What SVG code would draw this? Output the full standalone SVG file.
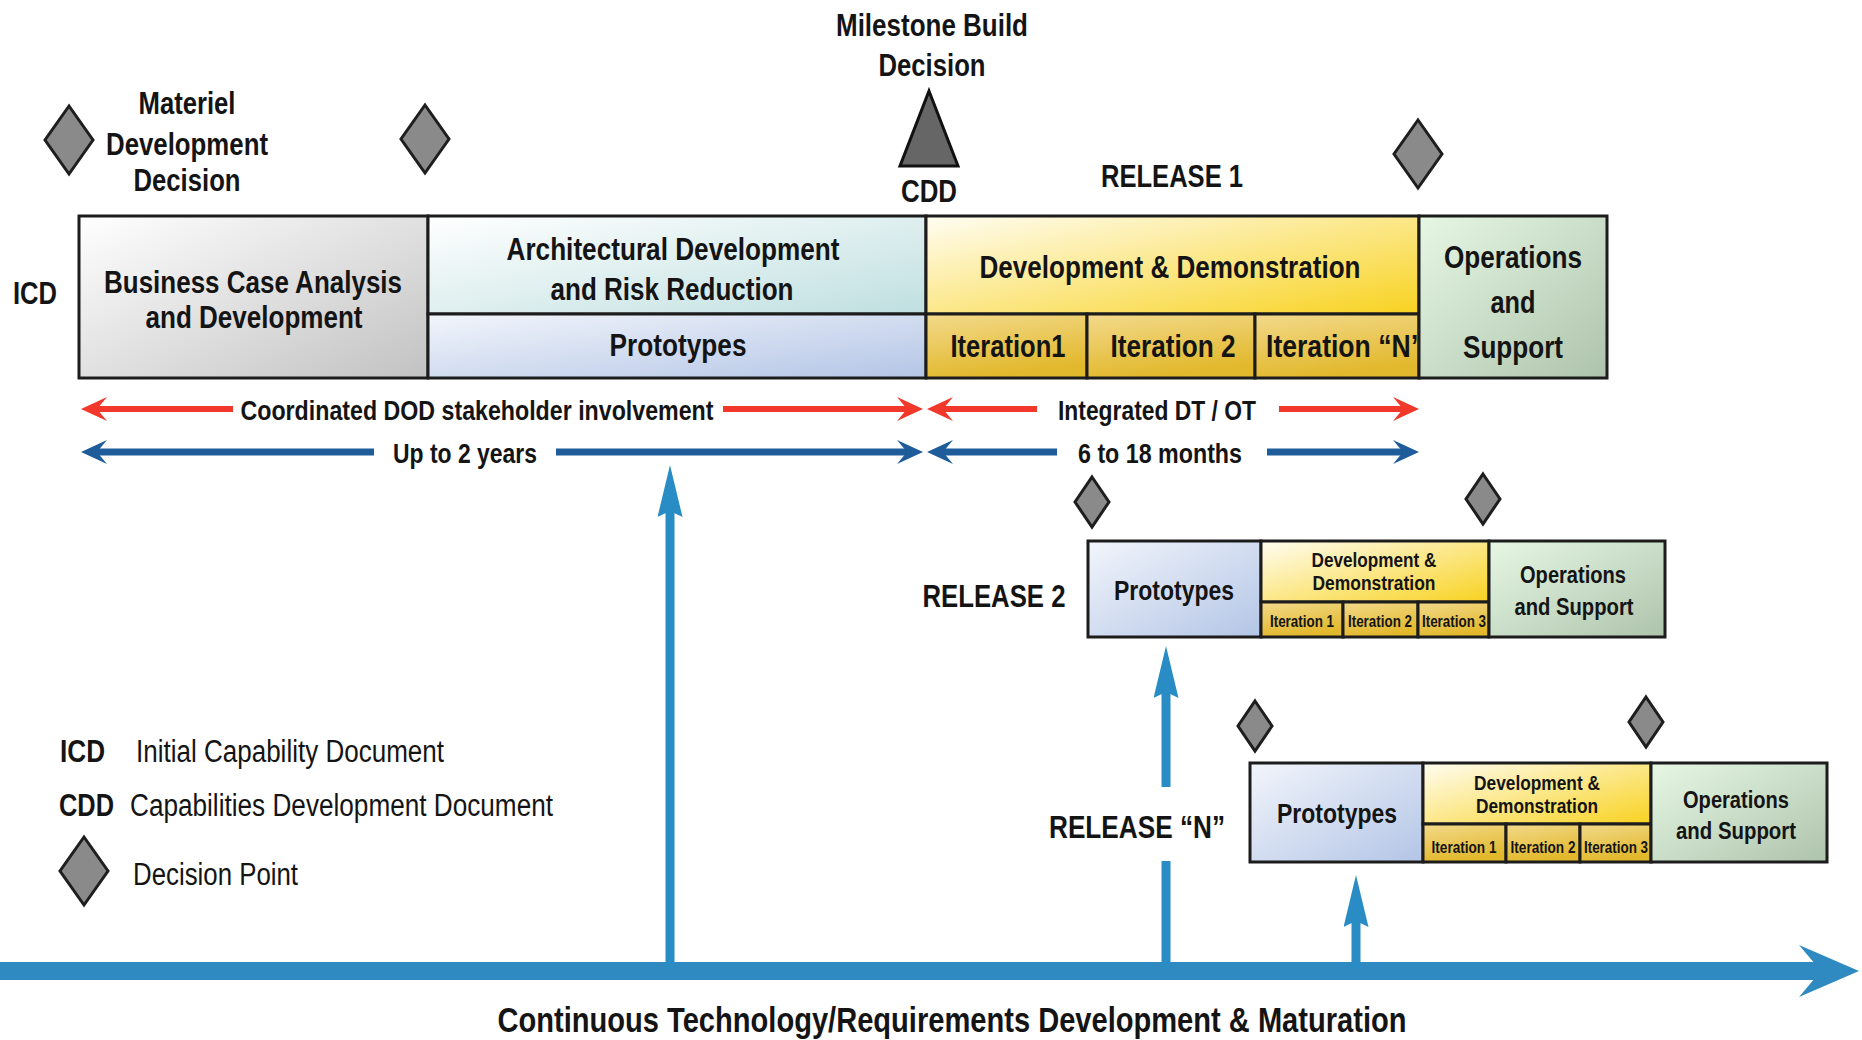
<svg xmlns="http://www.w3.org/2000/svg" width="1862" height="1040" viewBox="0 0 1862 1040">
  <defs>
    <style>
      text { font-family: 'Liberation Sans Narrow', 'Arial Narrow', 'Liberation Sans', Arial, sans-serif; font-weight: bold; fill: #141414; text-anchor: middle; }
      .reg { font-weight: normal; }
      .st { text-anchor: start; }
      .f35 { font-size: 35px; }
      .f31 { font-size: 31px; }
      .f28 { font-size: 28px; }
      .f27 { font-size: 27px; }
      .f23 { font-size: 23px; }
      .f20 { font-size: 20px; }
      .f17 { font-size: 17px; }
      .cell { stroke: #1c1c1c; stroke-width: 3; }
      .diamond { fill: #8a8a8a; stroke: #1e1e1e; stroke-width: 3; stroke-linejoin: miter; }
      .red { stroke: #f2382a; stroke-width: 6; fill: none; }
      .navy { stroke: #1f5c9a; stroke-width: 7; fill: none; }
      .sky { stroke: #2a8cc4; stroke-width: 9; fill: none; }
    </style>
    <linearGradient id="gGray" x1="0" y1="0" x2="1" y2="1">
      <stop offset="0" stop-color="#ffffff"/>
      <stop offset="1" stop-color="#c2c2c2"/>
    </linearGradient>
    <linearGradient id="gTeal" x1="0" y1="0" x2="1" y2="1">
      <stop offset="0" stop-color="#ffffff"/>
      <stop offset="1" stop-color="#bfdfe0"/>
    </linearGradient>
    <linearGradient id="gBlue" x1="0" y1="0" x2="1" y2="1">
      <stop offset="0" stop-color="#f2f5fb"/>
      <stop offset="1" stop-color="#b3c5e6"/>
    </linearGradient>
    <linearGradient id="gGold" x1="0" y1="0" x2="1" y2="1">
      <stop offset="0" stop-color="#fffdf2"/>
      <stop offset="1" stop-color="#f8d220"/>
    </linearGradient>
    <linearGradient id="gIter" x1="0" y1="0" x2="0.3" y2="1">
      <stop offset="0" stop-color="#f3da8c"/>
      <stop offset="1" stop-color="#e2b82c"/>
    </linearGradient>
    <linearGradient id="gGreen" x1="0" y1="0" x2="1" y2="1">
      <stop offset="0" stop-color="#e6f8e4"/>
      <stop offset="1" stop-color="#aec3ac"/>
    </linearGradient>
    <marker id="headRed" markerUnits="userSpaceOnUse" viewBox="0 0 26 24" markerWidth="26" markerHeight="24" refX="16" refY="12" orient="auto">
      <path d="M0,0 L26,12 L0,24 L10,12 z" fill="#f2382a"/>
    </marker>
    <marker id="headNavy" markerUnits="userSpaceOnUse" viewBox="0 0 26 24" markerWidth="26" markerHeight="24" refX="16" refY="12" orient="auto">
      <path d="M0,0 L26,12 L0,24 L10,12 z" fill="#1f5c9a"/>
    </marker>
    <marker id="headSky" markerUnits="userSpaceOnUse" viewBox="0 0 52 25" markerWidth="52" markerHeight="25" refX="22" refY="12.5" orient="auto">
      <path d="M0,0 L52,12.5 L0,25 L6,12.5 z" fill="#2a8cc4"/>
    </marker>
    <polygon id="dpBig" points="0,-34 24,0 0,34 -24,0"/>
    <polygon id="dpSmall" points="0,-25 17,0 0,25 -17,0"/>
  </defs>

  <rect width="1862" height="1040" fill="#ffffff"/>

  <!-- headings and milestone markers -->
  <g id="milestone-build">
    <text class="f31" x="932" y="36" textLength="192" lengthAdjust="spacingAndGlyphs">Milestone Build</text>
    <text class="f31" x="932" y="76" textLength="107" lengthAdjust="spacingAndGlyphs">Decision</text>
    <polygon points="929,91 958,166 900,166" fill="#666666" stroke="#111111" stroke-width="3" stroke-linejoin="miter"/>
    <text class="f31" x="929" y="202" textLength="56" lengthAdjust="spacingAndGlyphs">CDD</text>
  </g>
  <g id="materiel-decision">
    <use href="#dpBig" class="diamond" x="69" y="140"/>
    <text class="f31" x="187" y="114" textLength="97" lengthAdjust="spacingAndGlyphs">Materiel</text>
    <text class="f31" x="187" y="155" textLength="162" lengthAdjust="spacingAndGlyphs">Development</text>
    <text class="f31" x="187" y="191" textLength="107" lengthAdjust="spacingAndGlyphs">Decision</text>
  </g>
  <g id="decision-2">
    <use href="#dpBig" class="diamond" x="425" y="139"/>
  </g>
  <g id="decision-3">
    <use href="#dpBig" class="diamond" x="1418" y="154"/>
  </g>
  <text class="f31" x="1172" y="187" textLength="142" lengthAdjust="spacingAndGlyphs">RELEASE 1</text>
  <text class="f31" x="35" y="304" textLength="44" lengthAdjust="spacingAndGlyphs">ICD</text>

  <!-- release 1 -->
  <g id="release-1">
    <rect class="cell" x="79" y="216" width="349" height="162" fill="url(#gGray)"/>
    <rect class="cell" x="428" y="216" width="498" height="98" fill="url(#gTeal)"/>
    <rect class="cell" x="428" y="314" width="498" height="64" fill="url(#gBlue)"/>
    <rect class="cell" x="926" y="216" width="493" height="98" fill="url(#gGold)"/>
    <rect class="cell" x="926" y="314" width="161" height="64" fill="url(#gIter)"/>
    <rect class="cell" x="1087" y="314" width="168" height="64" fill="url(#gIter)"/>
    <rect class="cell" x="1255" y="314" width="164" height="64" fill="url(#gIter)"/>
    <text class="f31" x="253" y="293" textLength="298" lengthAdjust="spacingAndGlyphs">Business Case Analysis</text>
    <text class="f31" x="254" y="328" textLength="217" lengthAdjust="spacingAndGlyphs">and Development</text>
    <text class="f31" x="673" y="260" textLength="333" lengthAdjust="spacingAndGlyphs">Architectural Development</text>
    <text class="f31" x="672" y="300" textLength="243" lengthAdjust="spacingAndGlyphs">and Risk Reduction</text>
    <text class="f31" x="678" y="356" textLength="137" lengthAdjust="spacingAndGlyphs">Prototypes</text>
    <text class="f31" x="1170" y="278" textLength="381" lengthAdjust="spacingAndGlyphs">Development &amp; Demonstration</text>
    <text class="f31" x="1008" y="357" textLength="115" lengthAdjust="spacingAndGlyphs">Iteration1</text>
    <text class="f31" x="1173" y="357" textLength="125" lengthAdjust="spacingAndGlyphs">Iteration 2</text>
    <text class="f31 st" x="1266" y="357" textLength="158" lengthAdjust="spacingAndGlyphs">Iteration “N”</text>
    <rect class="cell" x="1419" y="216" width="188" height="162" fill="url(#gGreen)"/>
    <text class="f31" x="1513" y="268" textLength="138" lengthAdjust="spacingAndGlyphs">Operations</text>
    <text class="f31" x="1513" y="313" textLength="45" lengthAdjust="spacingAndGlyphs">and</text>
    <text class="f31" x="1513" y="358" textLength="100" lengthAdjust="spacingAndGlyphs">Support</text>
  </g>

  <!-- release 2 -->
  <g id="release-2">
    <use href="#dpSmall" class="diamond" x="1092" y="502"/>
    <use href="#dpSmall" class="diamond" x="1483" y="499"/>
    <text class="f31" x="994" y="607" textLength="143" lengthAdjust="spacingAndGlyphs">RELEASE 2</text>
    <rect class="cell" x="1088" y="541" width="173" height="96" fill="url(#gBlue)"/>
    <rect class="cell" x="1261" y="541" width="228" height="61" fill="url(#gGold)"/>
    <rect class="cell" x="1261" y="602" width="82" height="35" fill="url(#gIter)"/>
    <rect class="cell" x="1343" y="602" width="75" height="35" fill="url(#gIter)"/>
    <rect class="cell" x="1418" y="602" width="71" height="35" fill="url(#gIter)"/>
    <rect class="cell" x="1489" y="541" width="176" height="96" fill="url(#gGreen)"/>
    <text class="f27" x="1174" y="600" textLength="120" lengthAdjust="spacingAndGlyphs">Prototypes</text>
    <text class="f20" x="1374" y="567" textLength="125" lengthAdjust="spacingAndGlyphs">Development &amp;</text>
    <text class="f20" x="1374" y="590" textLength="123" lengthAdjust="spacingAndGlyphs">Demonstration</text>
    <text class="f17" transform="translate(1302,627) scale(0.79,1)">Iteration 1</text>
    <text class="f17" transform="translate(1380,627) scale(0.79,1)">Iteration 2</text>
    <text class="f17" transform="translate(1454,627) scale(0.79,1)">Iteration 3</text>
    <text class="f23" x="1573" y="583" textLength="106" lengthAdjust="spacingAndGlyphs">Operations</text>
    <text class="f23" x="1574" y="615" textLength="119" lengthAdjust="spacingAndGlyphs">and Support</text>
  </g>

  <!-- release N -->
  <g id="release-n">
    <use href="#dpSmall" class="diamond" x="1255" y="726"/>
    <use href="#dpSmall" class="diamond" x="1646" y="722"/>
    <text class="f31" x="1137" y="838" textLength="176" lengthAdjust="spacingAndGlyphs">RELEASE “N”</text>
    <rect class="cell" x="1250" y="763" width="173" height="99" fill="url(#gBlue)"/>
    <rect class="cell" x="1423" y="763" width="228" height="61" fill="url(#gGold)"/>
    <rect class="cell" x="1423" y="824" width="83" height="38" fill="url(#gIter)"/>
    <rect class="cell" x="1506" y="824" width="74" height="38" fill="url(#gIter)"/>
    <rect class="cell" x="1580" y="824" width="71" height="38" fill="url(#gIter)"/>
    <rect class="cell" x="1651" y="763" width="176" height="99" fill="url(#gGreen)"/>
    <text class="f27" x="1337" y="823" textLength="120" lengthAdjust="spacingAndGlyphs">Prototypes</text>
    <text class="f20" x="1537" y="790" textLength="126" lengthAdjust="spacingAndGlyphs">Development &amp;</text>
    <text class="f20" x="1537" y="813" textLength="122" lengthAdjust="spacingAndGlyphs">Demonstration</text>
    <text class="f17" transform="translate(1464,853) scale(0.8,1)">Iteration 1</text>
    <text class="f17" transform="translate(1543,853) scale(0.8,1)">Iteration 2</text>
    <text class="f17" transform="translate(1616,853) scale(0.79,1)">Iteration 3</text>
    <text class="f23" x="1736" y="808" textLength="106" lengthAdjust="spacingAndGlyphs">Operations</text>
    <text class="f23" x="1736" y="839" textLength="120" lengthAdjust="spacingAndGlyphs">and Support</text>
  </g>

  <!-- span labels -->
  <text class="f28" x="477" y="420" textLength="473" lengthAdjust="spacingAndGlyphs">Coordinated DOD stakeholder involvement</text>
  <text class="f28" x="1157" y="420" textLength="198" lengthAdjust="spacingAndGlyphs">Integrated DT / OT</text>
  <text class="f28" x="465" y="463" textLength="144" lengthAdjust="spacingAndGlyphs">Up to 2 years</text>
  <text class="f28" x="1160" y="463" textLength="164" lengthAdjust="spacingAndGlyphs">6 to 18 months</text>

  <!-- legend -->
  <g id="legend">
    <text class="f31 st" x="60" y="762" textLength="45" lengthAdjust="spacingAndGlyphs">ICD</text>
    <text class="f31 st reg" x="136" y="762" textLength="308" lengthAdjust="spacingAndGlyphs">Initial Capability Document</text>
    <text class="f31 st" x="59" y="816" textLength="55" lengthAdjust="spacingAndGlyphs">CDD</text>
    <text class="f31 st reg" x="130" y="816" textLength="423" lengthAdjust="spacingAndGlyphs">Capabilities Development Document</text>
    <use href="#dpBig" class="diamond" x="84" y="871"/>
    <text class="f31 st reg" x="133" y="885" textLength="165" lengthAdjust="spacingAndGlyphs">Decision Point</text>
  </g>

  <text class="f35" x="952" y="1032" textLength="909" lengthAdjust="spacingAndGlyphs">Continuous Technology/Requirements Development &amp; Maturation</text>

  <!-- connectors -->
  <g id="connectors">
    <line class="red" x1="233" y1="409" x2="91" y2="409" marker-end="url(#headRed)"/>
    <line class="red" x1="723" y1="409" x2="913" y2="409" marker-end="url(#headRed)"/>
    <line class="red" x1="1037" y1="409" x2="937" y2="409" marker-end="url(#headRed)"/>
    <line class="red" x1="1279" y1="409" x2="1409" y2="409" marker-end="url(#headRed)"/>
    <line class="navy" x1="374" y1="452" x2="91" y2="452" marker-end="url(#headNavy)"/>
    <line class="navy" x1="556" y1="452" x2="913" y2="452" marker-end="url(#headNavy)"/>
    <line class="navy" x1="1057" y1="452" x2="937" y2="452" marker-end="url(#headNavy)"/>
    <line class="navy" x1="1267" y1="452" x2="1409" y2="452" marker-end="url(#headNavy)"/>
    <!-- timeline axis -->
    <line x1="0" y1="971" x2="1822" y2="971" stroke="#2f8ac2" stroke-width="18"/>
    <polygon points="1799,945 1859,971 1799,997 1821,971" fill="#2f8ac2"/>
    <!-- feeds into the releases -->
    <line class="sky" x1="670" y1="968" x2="670" y2="495" marker-end="url(#headSky)"/>
    <line class="sky" x1="1166" y1="968" x2="1166" y2="861"/>
    <line class="sky" x1="1166" y1="787" x2="1166" y2="676" marker-end="url(#headSky)"/>
    <line class="sky" x1="1356" y1="968" x2="1356" y2="905" marker-end="url(#headSky)"/>
  </g>
</svg>
